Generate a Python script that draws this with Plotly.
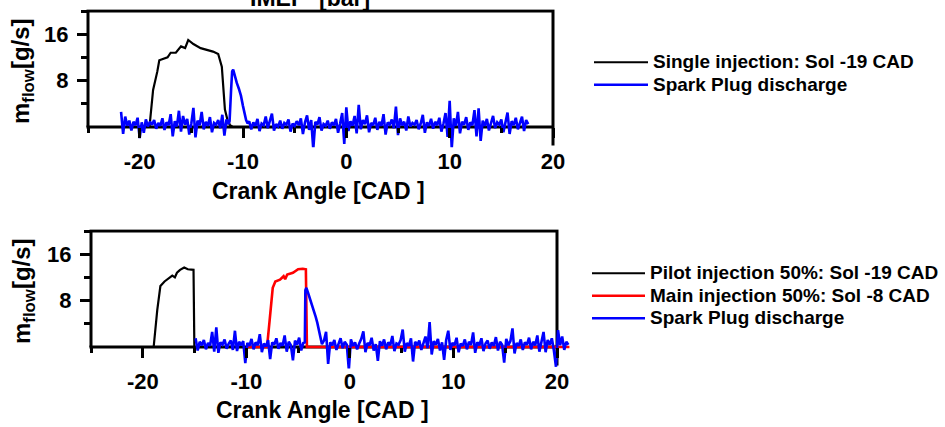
import numpy as np
import plotly.graph_objects as go

# ---------------- data ----------------
NOISE_STEP = 0.2

# Top panel: single injection (mass flow, g/s)
single_x = [-25, -19.05, -18.7, -18.5, -18.3, -18.1, -17.7, -17.3, -17.0, -16.5, -16.0, -15.6,
            -15.3, -14.8, -14.1, -13.5, -12.9, -12.4, -12.05, -11.75, -11.5, -11.25, -11.0, 20]
single_y = [0, 0, 6.4, 7.8, 9.5, 11.5, 11.7, 12.0, 12.8, 12.8, 13.9, 13.6,
            15.0, 14.3, 13.6, 13.3, 13.0, 12.6, 10.4, 3.0, 1.2, 0.3, 0, 0]

# Top panel: spark plug discharge
spark1_a_start = -21.8
spark1_a = [2.6, -1.2, 1.8, 0.2, 1.1, -0.6, 0.9, 0.3, 1.6, -1.9,
            0.8, -1.0, 1.3, 0.1, 0.9, 0.4, 1.2, -0.3, 0.7, 0.2,
            1.5, -0.5, 0.8, 0.3, 2.2, -1.6, 1.0, 0.1, 2.8, -0.8,
            1.9, 0.4, 1.4, -1.3, 0.6, 3.3, -1.8, 1.1, 0.3, 2.6,
            -0.4, 0.9, 0.2, 1.7, -0.9, 0.7, 0.4, 1.2, -0.2, 2.1,
            -1.5, 1.3, 0.5]
spark1_peak_x = [-11.3, -11.15, -11.05, -10.95, -10.8, -10.6, -10.4, -10.2, -10.0, -9.85, -9.7, -9.55]
spark1_peak_y = [1.0, 6.5, 9.6, 9.9, 8.8, 7.6, 6.6, 5.4, 3.6, 2.2, 1.2, 0.6]
spark1_b_start = -9.4
spark1_b = [1.0, -0.4, 0.8, 0.2, 1.4, -0.7, 0.6, 0.3, 1.8, -0.2,
            0.9, 2.3, -0.6, 0.5, 0.1, 1.1, -0.3, 0.7, 0.4, 1.3,
            -0.8, 0.6, 0.2, 1.0, 0.3, 1.5, -1.2, 0.8, 2.0, -0.5,
            1.2, -3.8, 0.9, 0.4, 1.7, -0.6, 0.5, 0.2, 1.1, -0.3,
            0.8, 0.3, 1.4, -1.0, 0.6, 2.4, -2.9, 3.4, -0.7, 1.0,
            0.2, 1.9, -1.1, 3.8, -0.4, 1.2, 0.5, 2.0, -0.9, 0.7,
            0.3, 1.6, -0.5, 0.9, 0.2, 2.2, -1.3, 0.8, 0.4, 1.3,
            -0.2, 3.5, -1.4, 1.5, 0.3, 0.9, -0.6, 1.8, 0.1, 0.7,
            0.4, 1.2, -0.4, 0.6, 2.1, -1.0, 0.8, 0.2, 1.4, -0.3,
            0.9, 0.3, 1.6, -0.8, 0.6, 2.4, -1.7, 4.5, -3.7, 1.5,
            0.2, 2.6, -1.1, 0.9, 0.4, 1.7, -0.5, 0.8, 0.3, 2.9,
            -1.6, 3.2, -2.4, 1.1, 0.2, 1.4, -0.6, 0.7, 1.9, -0.2,
            0.8, 0.4, 1.3, -0.9, 0.6, 2.5, -1.2, 1.0, 0.3, 1.6,
            -0.4, 0.9, 1.8, -0.7, 1.2, 0.5]

# Bottom panel: pilot injection 50 %
pilot_x = [-25, -18.95, -18.6, -18.3, -17.9, -17.4, -17.15, -16.9, -16.7, -16.4, -16.0, -15.65,
           -15.25, -15.1, -15.02, -10]
pilot_y = [0, 0, 6.4, 10.5, 11.3, 11.9, 12.3, 12.0, 12.8, 13.3, 13.7, 13.4,
           13.4, 13.3, 0, 0]

# Bottom panel: main injection 50 %
main_x = [-10, -8.0, -7.75, -7.45, -7.2, -6.75, -6.4, -6.25, -6.05, -5.5, -5.0, -4.55, -4.25, -4.15, 21.2]
main_y = [0, 0, 4.6, 10.2, 11.3, 11.6, 12.2, 11.7, 12.5, 12.8, 13.4, 13.5, 13.4, 0, 0]

# Bottom panel: spark plug discharge
spark2_a_start = -14.9
spark2_a = [1.5, -0.6, 0.9, 0.3, 1.2, -0.4, 0.7, 0.2, 2.6, -0.8,
            3.4, -1.0, 0.8, 0.4, 1.3, -0.3, 0.6, 1.1, -0.5, 2.8,
            -0.7, 0.9, 0.3, 1.0, -2.8, 0.7, 0.2, 1.4, -0.4, 0.8,
            0.3, 2.2, -0.9, 0.6, 0.1, 1.2, -2.1, 0.8, 0.4, 1.5,
            -0.3, 0.7, 0.2, 2.0, -0.8, 0.9, 0.3, -2.3, 1.1, 0.4,
            1.6, -0.6, 0.7]
spark2_peak_x = [-4.35, -4.3, -4.2, -4.05, -3.9, -3.75, -3.6, -3.45, -3.3, -3.15, -3.0, -2.85, -2.7]
spark2_peak_y = [0.8, 9.8, 10.2, 9.4, 8.6, 7.9, 6.9, 6.2, 5.2, 4.2, 3.0, 1.6, 0.5]
spark2_b_start = -2.5
spark2_b = [1.1, 2.6, -2.9, 0.8, 0.3, 1.2, -0.5, 0.7, 1.5, -0.2,
            0.9, 0.4, -3.9, 1.3, 0.2, 0.8, -0.4, 0.6, 1.4, 2.7,
            -0.9, 0.7, 0.3, 1.6, -0.6, 0.5, -2.4, 1.0, 0.2, 1.3,
            -0.4, 0.8, 0.3, 1.9, -0.7, 0.6, 0.4, 1.2, 3.0, -0.8,
            0.7, 0.2, 1.5, -2.5, 0.9, 0.3, 1.1, -0.5, 0.6, 1.8,
            -0.2, 4.3, -1.3, 1.0, 0.4, 1.4, -0.6, 0.8, -2.2, 1.2,
            2.8, -0.5, 0.7, 0.3, 1.6, -0.9, 0.6, 0.2, 1.3, -0.4,
            0.9, 0.4, 2.5, -1.0, 0.8, 0.3, 1.5, -0.7, 0.6, 1.1,
            -0.3, 0.8, 0.2, 1.7, -0.6, 0.9, 0.4, -2.7, 1.4, 0.3,
            1.0, 3.2, -1.1, 0.7, 0.2, 1.3, -0.5, 0.8, 0.4, 1.6,
            -0.4, 0.9, 0.3, 2.0, -0.8, 0.7, 2.6, -0.9, 1.2, 0.4,
            1.5, -0.6, -3.4, 2.9, 0.3, 1.8, -0.5, 0.9, 0.4]

x_tick_vals = [-20, -10, 0, 10, 20]
x_tick_text = ["-20", "-10", "0", "10", "20"]
x_minor_vals = [-25, -15, -5, 5, 15]
y_tick_vals = [8, 16]
y_tick_text = ["8", "16"]
y_minor_vals = [4, 12, 20]

legend_top = ["Single injection: Sol -19 CAD", "Spark Plug discharge"]
legend_bot = ["Pilot injection 50%: Sol -19 CAD", "Main injection 50%: Sol -8 CAD", "Spark Plug discharge"]


def grid(start, vals):
    return list(start + NOISE_STEP * np.arange(len(vals)))


spark1_x = grid(spark1_a_start, spark1_a) + spark1_peak_x + grid(spark1_b_start, spark1_b)
spark1_y = spark1_a + spark1_peak_y + spark1_b
spark2_x = grid(spark2_a_start, spark2_a) + spark2_peak_x + grid(spark2_b_start, spark2_b)
spark2_y = spark2_a + spark2_peak_y + spark2_b

# ---------------- layout geometry ----------------
W, H = 945, 427
FONT = "Liberation Sans"


def fx(p):
    return p / W


def fy(p):
    return 1 - p / H


def leg_name(s):
    return '<span style="font-size:19px">' + s + "</span>"


panels = [
    dict(left=88, right=553, top=11, zero=127, xr=[-25.3, 20.3], yr=[-3.5, 20.3]),
    dict(left=91, right=557, top=231, zero=347, xr=[-25.3, 21.3], yr=[-3.7, 20.3]),
]

fig = go.Figure()

fig.add_trace(go.Scatter(x=single_x, y=single_y, mode="lines", name=leg_name(legend_top[0]),
                         line=dict(color="black", width=2.2), xaxis="x", yaxis="y", legend="legend"))
fig.add_trace(go.Scatter(x=spark1_x, y=spark1_y, mode="lines", name=leg_name(legend_top[1]),
                         line=dict(color="#0000ff", width=2.6), xaxis="x", yaxis="y", legend="legend"))
fig.add_trace(go.Scatter(x=pilot_x, y=pilot_y, mode="lines", name=leg_name(legend_bot[0]),
                         line=dict(color="black", width=2.2), xaxis="x2", yaxis="y2", legend="legend2"))
fig.add_trace(go.Scatter(x=main_x, y=main_y, mode="lines", name=leg_name(legend_bot[1]),
                         line=dict(color="#ff0000", width=2.6), xaxis="x2", yaxis="y2", legend="legend2"))
fig.add_trace(go.Scatter(x=spark2_x, y=spark2_y, mode="lines", name=leg_name(legend_bot[2]),
                         line=dict(color="#0000ff", width=2.6), xaxis="x2", yaxis="y2", legend="legend2"))

tickfont = dict(family=FONT, size=22, color="black", weight="bold")
layout_axes = {}
shapes = []
for i, p in enumerate(panels):
    sx = (p["right"] - p["left"]) / 45.0
    sy = (p["zero"] - p["top"]) / 20.0
    dl = p["left"] + (p["xr"][0] + 25) * sx
    dr = p["right"] + (p["xr"][1] - 20) * sx
    dt = p["top"] - (p["yr"][1] - 20) * sy
    db = p["zero"] - p["yr"][0] * sy
    xn = "xaxis" if i == 0 else "xaxis2"
    yn = "yaxis" if i == 0 else "yaxis2"
    xs = "x" if i == 0 else "x2"
    ys = "y" if i == 0 else "y2"
    layout_axes[xn] = dict(
        domain=[fx(dl), fx(dr)], range=p["xr"], anchor="free", position=fy(p["zero"]),
        automargin=False, showgrid=False, zeroline=False, showline=False,
        tickmode="array", tickvals=x_tick_vals, ticktext=x_tick_text,
        ticks="outside", ticklen=10, tickwidth=3, tickcolor="black",
        minor=dict(tickmode="array", tickvals=x_minor_vals, ticks="outside",
                   ticklen=5, tickwidth=3, tickcolor="black", showgrid=False),
        tickfont=tickfont, ticklabelstandoff=5,
    )
    layout_axes[yn] = dict(
        domain=[fy(db), fy(dt)], range=p["yr"], anchor="free", position=fx(p["left"]),
        automargin=False, showgrid=False, zeroline=False, showline=False,
        tickmode="array", tickvals=y_tick_vals, ticktext=y_tick_text,
        ticks="outside", ticklen=11, tickwidth=3, tickcolor="black",
        minor=dict(tickmode="array", tickvals=y_minor_vals, ticks="outside",
                   ticklen=7, tickwidth=3, tickcolor="black", showgrid=False),
        tickfont=tickfont, ticklabelstandoff=4,
    )
    shapes.append(dict(type="path", xref=xs, yref=ys, layer="below",
                       path="M -25 0 L -25 20 L 20 20 L 20 -3.2",
                       line=dict(color="black", width=3)))
    shapes.append(dict(type="line", xref=xs, yref=ys, layer="below",
                       x0=-25.15, x1=20, y0=0, y1=0, line=dict(color="black", width=3)))

titlefont = dict(family=FONT, size=23, color="black", weight="bold")
ytitlefont = dict(family=FONT, size=24, color="black", weight="bold")
annotations = [
    dict(text="IMEP\u00a0\u00a0[bar]", x=fx(310), y=fy(13), xref="paper", yref="paper",
         xanchor="center", yanchor="bottom", showarrow=False, font=titlefont),
    dict(text="Crank Angle [CAD ]", x=fx(318), y=fy(191), xref="paper", yref="paper",
         xanchor="center", yanchor="middle", showarrow=False, font=titlefont),
    dict(text="Crank Angle [CAD ]", x=fx(322), y=fy(410), xref="paper", yref="paper",
         xanchor="center", yanchor="middle", showarrow=False, font=titlefont),
    dict(text="m<sub>flow</sub>[g/s]", x=fx(23), y=fy(71), xref="paper", yref="paper",
         xanchor="center", yanchor="middle", textangle=-90, showarrow=False, font=ytitlefont),
    dict(text="m<sub>flow</sub>[g/s]", x=fx(23), y=fy(291), xref="paper", yref="paper",
         xanchor="center", yanchor="middle", textangle=-90, showarrow=False, font=ytitlefont),
]

legfont = dict(family=FONT, size=15, color="black", weight="bold")
fig.update_layout(
    width=W, height=H, margin=dict(l=0, r=0, t=0, b=0, autoexpand=False),
    paper_bgcolor="white", plot_bgcolor="white",
    shapes=shapes, annotations=annotations,
    legend=dict(x=fx(589), y=fy(46), xanchor="left", yanchor="top", bgcolor="rgba(0,0,0,0)",
                font=legfont, itemwidth=54, tracegroupgap=0),
    legend2=dict(x=fx(587), y=fy(257), xanchor="left", yanchor="top", bgcolor="rgba(0,0,0,0)",
                 font=legfont, itemwidth=53, tracegroupgap=0),
    **layout_axes,
)

fig.write_html("out.html", config={"displayModeBar": False},
               post_script="document.body.style.margin='0px';document.body.style.overflow='hidden';")
